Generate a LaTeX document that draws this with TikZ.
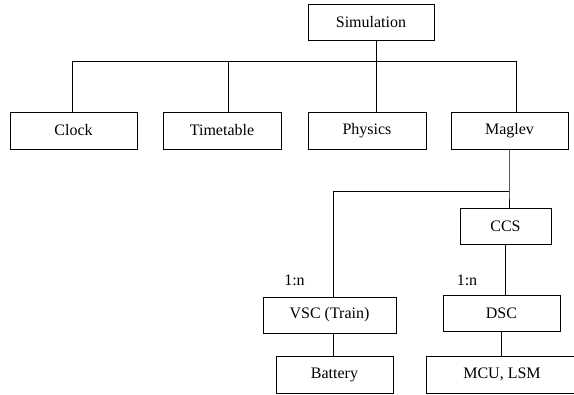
\documentclass[tikz,border=0pt]{standalone}
\usepackage{fontspec}
\setmainfont{Liberation Serif}
\begin{document}
\begin{tikzpicture}[x=1pt,y=-1pt,line width=0.9pt,
    font=\fontsize{16}{19}\selectfont,
    box/.style={draw,inner sep=0pt,minimum height=36pt}]
  \useasboundingbox (0,0) rectangle (574,395);

  \node[box,minimum width=126pt] (sim) at (371,22) {Simulation};

  \node[box,minimum width=127pt,minimum height=37pt] (clock)     at ( 73.5,130.5) {Clock};
  \node[box,minimum width=118pt,minimum height=37pt] (timetable) at (222,  130.5) {Timetable};
  \node[box,minimum width=118pt,minimum height=37pt] (physics)   at (367,  130.5) {Physics};
  \node[box,minimum width=117pt,minimum height=37pt] (maglev)    at (509.5,130.5) {Maglev};

  \node[box,minimum width=91pt]  (ccs)     at (505.5,226)   {CCS};
  \node[box,minimum width=133pt] (vsc)     at (329.5,315)   {VSC (Train)};
  \node[box,minimum width=117pt] (dsc)     at (501.5,313)   {DSC};
  \node[box,minimum width=117pt,minimum height=37pt] (battery) at (334.5,374.5) {Battery};
  \node[box,minimum width=152pt,minimum height=37pt] (mcu)     at (502,  374.5) {MCU, LSM};

  \node (multl) at (294.5,280) {1:n};
  \node (multr) at (467,  280) {1:n};

  % top level bus
  \coordinate (bus) at (376,61);
  \draw (sim.south -| bus) -- (bus);
  \draw (72,61) -- (516,61);
  \foreach \n/\x in {clock/72,timetable/228,physics/376,maglev/516}
    \draw (\x,61) -- (\x,61 |- \n.north);

  % maglev subtree
  \coordinate (fork) at (509,191);
  \coordinate (vscin) at (333,191);
  \draw (maglev.south -| fork) -- (fork) -- (ccs.north -| fork);
  \draw (fork) -- (vscin) -- (vscin |- vsc.north);
  \draw (vsc.south -| vscin) -- (battery.north -| vscin);
  \draw (ccs.south) -- (ccs.south |- dsc.north);
  \draw (dsc.south) -- (mcu.north -| dsc.south);
\end{tikzpicture}
\end{document}
